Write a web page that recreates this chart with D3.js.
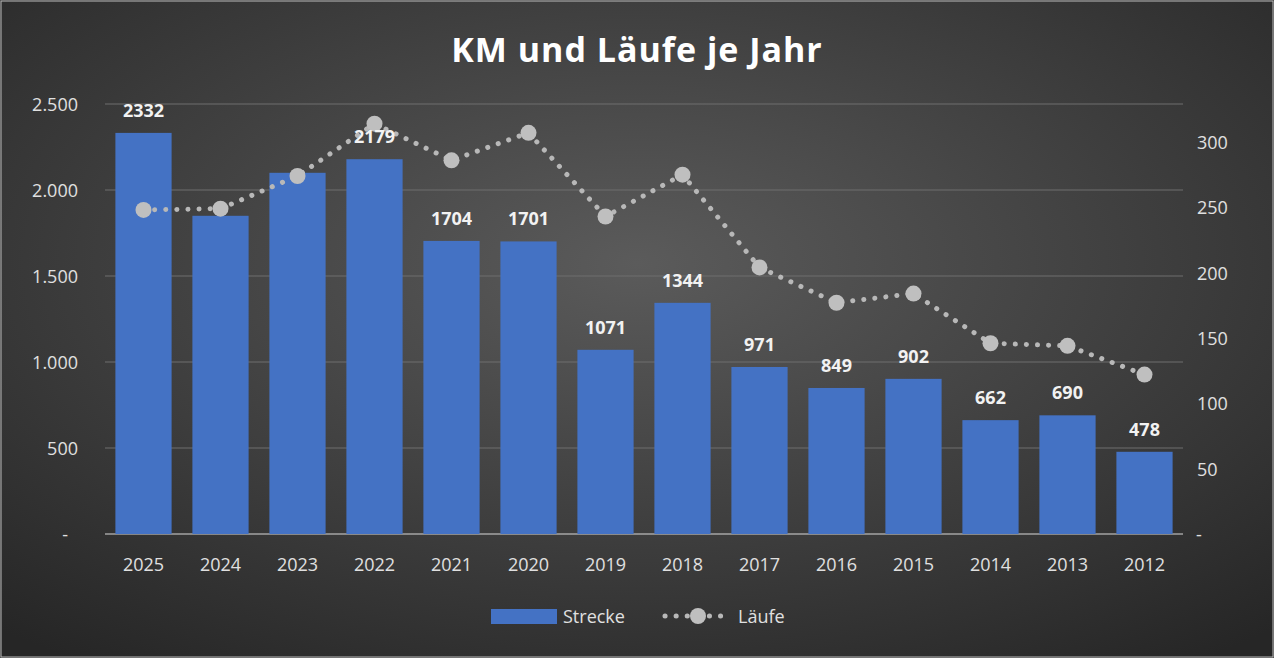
<!DOCTYPE html>
<html><head><meta charset="utf-8">
<script src="https://cdn.jsdelivr.net/npm/d3@7"></script>
<style>body{margin:0;background:#333}text{font-family:"Open Sans",sans-serif}</style>
</head><body>
<script>
var years = ["2025","2024","2023","2022","2021","2020","2019","2018","2017","2016","2015","2014","2013","2012"];
var strecke = [2332,1850,2100,2179,1704,1701,1071,1344,971,849,902,662,690,478];
var showLabel = [true,false,false,true,true,true,true,true,true,true,true,true,true,true];
var laeufe = [248,249,274,314,286,307,243,275,204,177,184,146,144,122];
var leftTicks = [0,500,1000,1500,2000,2500];
var rightTicks = [0,50,100,150,200,250,300];

var W=1274,H=658;
var svg=d3.select("body").append("svg").attr("width",W).attr("height",H);
var defs=svg.append("defs");
var g=defs.append("radialGradient").attr("id","bg").attr("cx","50%").attr("cy","40%").attr("r","75%");
g.append("stop").attr("offset","0%").attr("stop-color","#5b5b5b");
g.append("stop").attr("offset","100%").attr("stop-color","#262626");
svg.append("rect").attr("x",1).attr("y",1).attr("width",W-2).attr("height",H-2).attr("fill","url(#bg)").attr("stroke","#bbb");

var x=d3.scaleBand().domain(years).range([105,1183]).paddingInner(0.27).paddingOuter(0.135);
var yL=d3.scaleLinear().domain([0,2500]).range([534,104]);
var yR=d3.scaleLinear().domain([0,300]).range([534,142]);

svg.append("text").attr("x",W/2).attr("y",62).attr("text-anchor","middle").attr("fill","#fff")
  .attr("font-size",34).attr("font-weight","bold").attr("letter-spacing",1).text("KM und Läufe je Jahr");

svg.selectAll(".grid").data(leftTicks.slice(1)).enter().append("line")
  .attr("x1",105).attr("x2",1183).attr("y1",d=>yL(d)).attr("y2",d=>yL(d)).attr("stroke","#6e6e6e").attr("stroke-width",1);
svg.append("line").attr("x1",105).attr("x2",1183).attr("y1",534).attr("y2",534).attr("stroke","#d9d9d9");

var fmt=d3.formatLocale({decimal:",",thousands:".",grouping:[3]}).format(",");
svg.selectAll(".lt").data(leftTicks).enter().append("text")
  .attr("x",d=>d===0?68:78).attr("y",d=>yL(d)+7).attr("text-anchor","end").attr("fill","#e0e0e0").attr("font-size",18)
  .text(d=>d===0?"-":fmt(d));
svg.selectAll(".rt").data(rightTicks).enter().append("text")
  .attr("x",d=>d===0?1196:1197).attr("y",d=>yR(d)+7).attr("fill","#e0e0e0").attr("font-size",18)
  .text(d=>d===0?"-":d);

svg.selectAll(".bar").data(strecke).enter().append("rect")
  .attr("x",(d,i)=>x(years[i])).attr("width",x.bandwidth()).attr("y",d=>yL(d)).attr("height",d=>534-yL(d)).attr("fill","#4472c4");

svg.selectAll(".xl").data(years).enter().append("text")
  .attr("x",d=>x(d)+x.bandwidth()/2).attr("y",571).attr("text-anchor","middle").attr("fill","#e0e0e0").attr("font-size",18).text(d=>d);

var line=d3.line().x((d,i)=>x(years[i])+x.bandwidth()/2).y(d=>yR(d));
svg.append("path").datum(laeufe).attr("d",line).attr("fill","none").attr("stroke","#b8b8b8")
  .attr("stroke-width",5).attr("stroke-dasharray","0.1,11").attr("stroke-linecap","round");
svg.selectAll(".pt").data(laeufe).enter().append("circle")
  .attr("cx",(d,i)=>x(years[i])+x.bandwidth()/2).attr("cy",d=>yR(d)).attr("r",8).attr("fill","#bfbfbf");

svg.selectAll(".vl").data(strecke).enter().filter((d,i)=>showLabel[i]).append("text")
  .attr("x",(d,i)=>x(years[strecke.indexOf(d)])+x.bandwidth()/2).attr("y",d=>yL(d)-16)
  .attr("text-anchor","middle").attr("fill","#f2f2f2").attr("font-size",18).attr("font-weight","bold").text(d=>d);

var lg=svg.append("g");
lg.append("rect").attr("x",491).attr("y",609).attr("width",66).attr("height",15).attr("fill","#4472c4");
lg.append("text").attr("x",563).attr("y",623).attr("fill","#e0e0e0").attr("font-size",18).text("Strecke");
lg.append("line").attr("x1",665).attr("x2",730).attr("y1",616).attr("y2",616).attr("stroke","#b8b8b8")
  .attr("stroke-width",5).attr("stroke-dasharray","0.1,11").attr("stroke-linecap","round");
lg.append("circle").attr("cx",698).attr("cy",616).attr("r",8).attr("fill","#bfbfbf");
lg.append("text").attr("x",738).attr("y",623).attr("fill","#e0e0e0").attr("font-size",18).text("Läufe");
</script>
</body></html>
